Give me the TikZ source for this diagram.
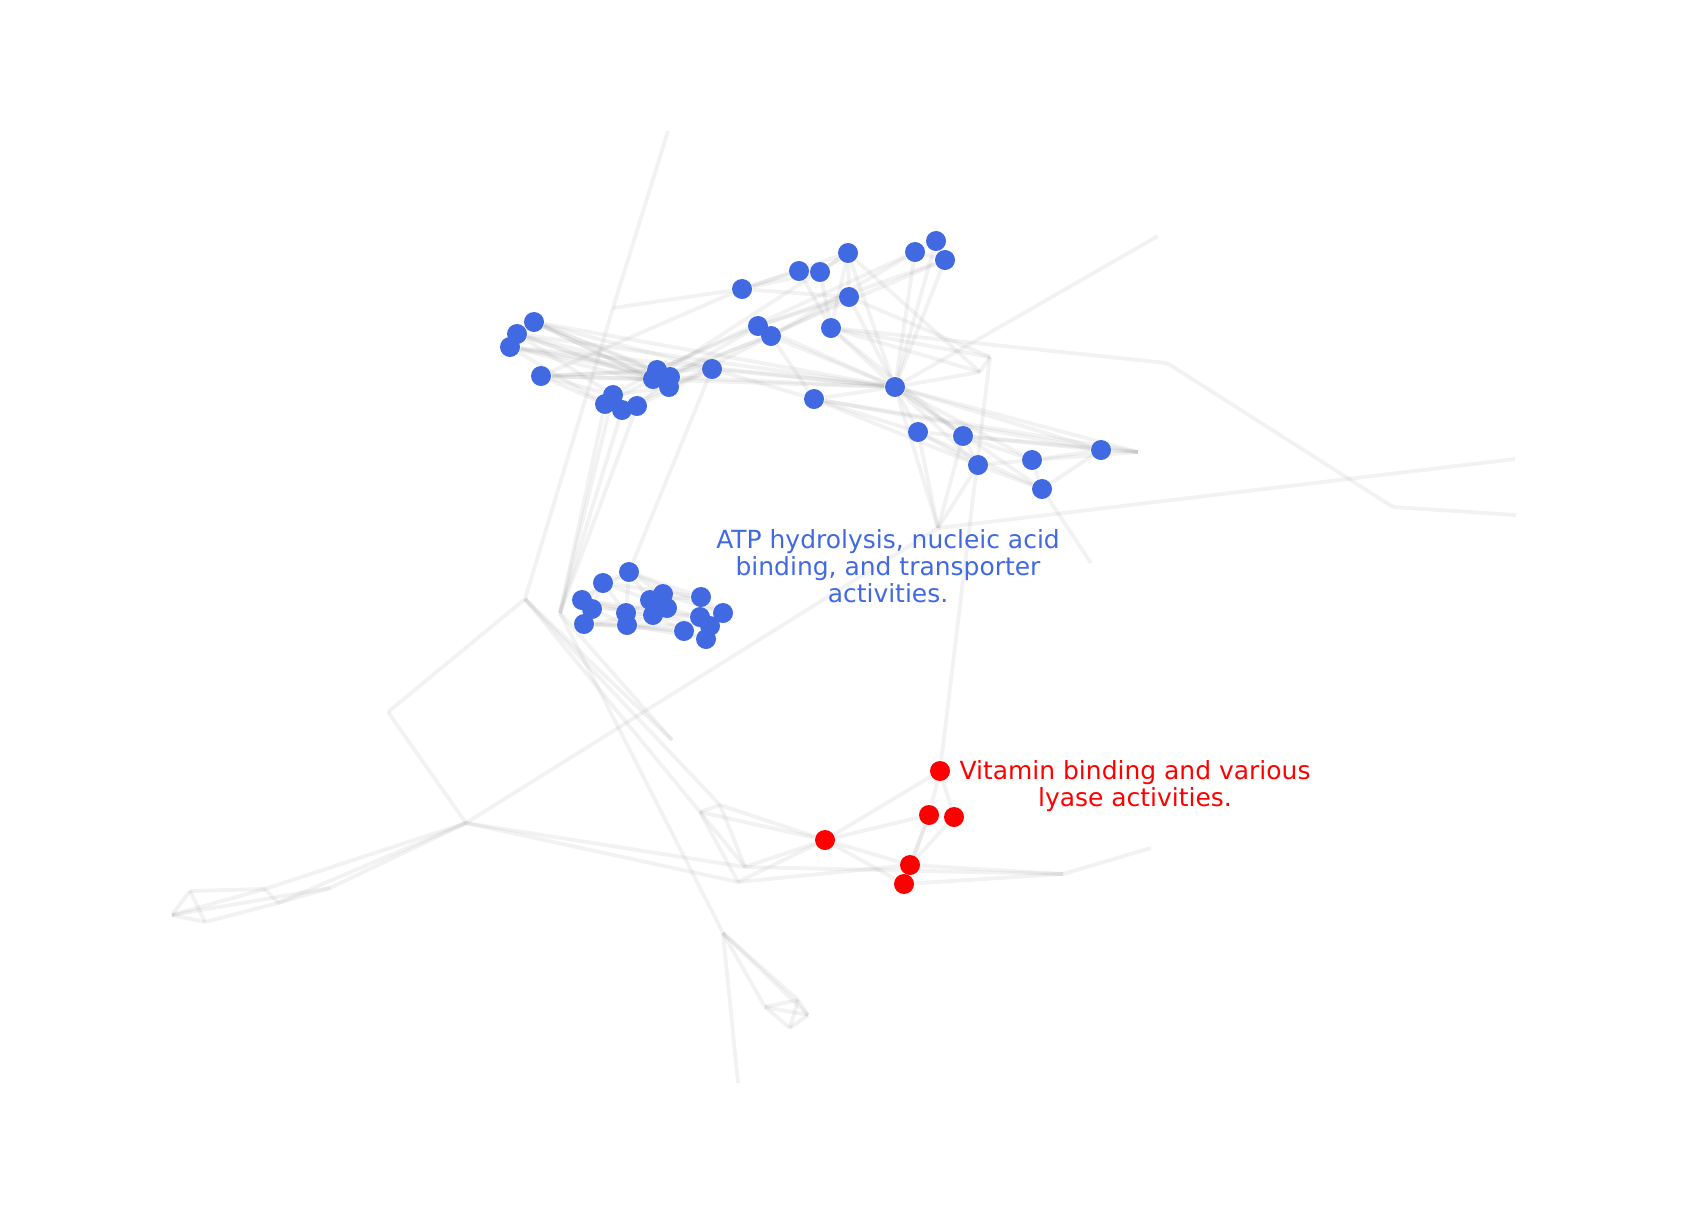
\documentclass[tikz,border=0pt]{standalone}
\usepackage{fontspec}
\setmainfont{DejaVu Sans}
\usepackage{tikz}
\usetikzlibrary{backgrounds}
\definecolor{royal}{RGB}{65,105,225}
\definecolor{vivid}{RGB}{255,0,0}

\begin{document}
\begin{tikzpicture}[
  x=0.01cm, y=-0.01cm,
  bnode/.style={
    circle,
    fill=royal,
    inner sep=0pt,
    minimum size=0.2cm
  },
  rnode/.style={
    bnode,
    fill=vivid
  },
  edge/.style={
    draw=gray,
    draw opacity=0.1,
    line width=1.1pt
  },
  lab/.style={
    align=center,
    inner sep=0pt,
    font=\fontsize{7.1}{7.7}\selectfont
  }
]
\useasboundingbox (0,0) rectangle (1687,1215);

% Upper blue group
\node[bnode] (t1)  at (534,322) {};
\node[bnode] (t2)  at (517,334) {};
\node[bnode] (t3)  at (510,347) {};
\node[bnode] (t4)  at (541,376) {};
\node[bnode] (t5)  at (613,395) {};
\node[bnode] (t6)  at (605,404) {};
\node[bnode] (t7)  at (622,410) {};
\node[bnode] (t8)  at (637,406) {};
\node[bnode] (t9)  at (657,370) {};
\node[bnode] (t10) at (653,379) {};
\node[bnode] (t11) at (670,377) {};
\node[bnode] (t12) at (669,387) {};
\node[bnode] (t13) at (712,369) {};
\node[bnode] (t14) at (742,289) {};
\node[bnode] (t15) at (799,271) {};
\node[bnode] (t16) at (820,272) {};
\node[bnode] (t17) at (848,253) {};
\node[bnode] (t18) at (849,297) {};
\node[bnode] (t19) at (758,326) {};
\node[bnode] (t20) at (771,336) {};
\node[bnode] (t21) at (831,328) {};
\node[bnode] (t22) at (814,399) {};
\node[bnode] (t23) at (915,252) {};
\node[bnode] (t24) at (936,241) {};
\node[bnode] (t25) at (945,260) {};
\node[bnode] (t26) at (895,387) {};
\node[bnode] (t27) at (918,432) {};
\node[bnode] (t28) at (963,436) {};
\node[bnode] (t29) at (978,465) {};
\node[bnode] (t30) at (1032,460) {};
\node[bnode] (t31) at (1042,489) {};
\node[bnode] (t32) at (1101,450) {};

% Middle blue group
\node[bnode] (m1)  at (629,572) {};
\node[bnode] (m2)  at (603,583) {};
\node[bnode] (m3)  at (582,600) {};
\node[bnode] (m4)  at (592,609) {};
\node[bnode] (m5)  at (584,624) {};
\node[bnode] (m6)  at (626,613) {};
\node[bnode] (m7)  at (627,625) {};
\node[bnode] (m8)  at (650,600) {};
\node[bnode] (m9)  at (663,594) {};
\node[bnode] (m10) at (667,608) {};
\node[bnode] (m11) at (653,615) {};
\node[bnode] (m12) at (701,597) {};
\node[bnode] (m13) at (700,617) {};
\node[bnode] (m14) at (710,626) {};
\node[bnode] (m15) at (723,613) {};
\node[bnode] (m16) at (684,631) {};
\node[bnode] (m17) at (706,639) {};

% Red group
\node[rnode] (r1) at (940,771) {};
\node[rnode] (r2) at (929,815) {};
\node[rnode] (r3) at (954,817) {};
\node[rnode] (r4) at (825,840) {};
\node[rnode] (r5) at (910,865) {};
\node[rnode] (r6) at (904,884) {};

% Unmarked vertices
\coordinate (gTop) at (668,131);
\coordinate (gA)   at (613,308);
\coordinate (gB)   at (525,599);
\coordinate (gC)   at (560,613);
\coordinate (gD)   at (388,712);
\coordinate (gE)   at (466,823);
\coordinate (gF)   at (672,740);
\coordinate (gL1)  at (190,891);
\coordinate (gL2)  at (172,915);
\coordinate (gL3)  at (205,922);
\coordinate (gL4)  at (265,889);
\coordinate (gL5)  at (278,903);
\coordinate (gL6)  at (330,888);
\coordinate (gQ1)  at (700,812);
\coordinate (gQ2)  at (720,805);
\coordinate (gQ3)  at (745,867);
\coordinate (gQ4)  at (738,882);
\coordinate (gR1)  at (1063,874);
\coordinate (gR2)  at (1151,848);
\coordinate (gS1)  at (723,933);
\coordinate (gS2)  at (765,1007);
\coordinate (gS3)  at (798,1000);
\coordinate (gS4)  at (808,1015);
\coordinate (gS5)  at (790,1028);
\coordinate (gS6)  at (738,1083);
\coordinate (gX)   at (938,528);
\coordinate (gRt)  at (1515,459);
\coordinate (gU)   at (990,357);
\coordinate (gV)   at (980,372);
\coordinate (gW)   at (1167,363);
\coordinate (gW2)  at (1393,507);
\coordinate (gW3)  at (1516,515);
\coordinate (gK)   at (1158,236);
\coordinate (gJ)   at (1138,452);
\coordinate (gH)   at (1091,563);

% Labels
\node[lab, text=royal] (atp) at (888,566)
  {ATP hydrolysis, nucleic acid\\binding, and transporter\\activities.};
\node[lab, text=vivid] (vit) at (1135,786)
  {Vitamin binding and various\\lyase activities.};

\begin{pgfonlayer}{background}
% Grey skeleton
\draw[edge] (gTop) -- (gA); \draw[edge] (gA) -- (gB); \draw[edge] (gA) -- (t14);
\draw[edge] (gB) -- (gD); \draw[edge] (gD) -- (gE);
\draw[edge] (gB) -- (gQ1); \draw[edge] (gB) -- (gQ2); \draw[edge] (gB) -- (gF);
\draw[edge] (gC) -- (gF); \draw[edge] (gC) -- (gS1);
\draw[edge] (t5) -- (gC); \draw[edge] (t6) -- (gC); \draw[edge] (t7) -- (gC); \draw[edge] (t8) -- (gC);
\draw[edge] (gE) -- (gL4); \draw[edge] (gE) -- (gL5); \draw[edge] (gE) -- (gL6);
\draw[edge] (gL1) -- (gL4); \draw[edge] (gL1) -- (gL2); \draw[edge] (gL1) -- (gL3);
\draw[edge] (gL2) -- (gL3); \draw[edge] (gL2) -- (gL6); \draw[edge] (gL3) -- (gL5);
\draw[edge] (gL4) -- (gL5); \draw[edge] (gL5) -- (gL6); \draw[edge] (gL2) -- (gL4);
\draw[edge] (gE) -- (gX); \draw[edge] (gE) -- (gQ3); \draw[edge] (gE) -- (gQ4);
\draw[edge] (gQ1) -- (gQ2); \draw[edge] (gQ1) -- (gQ4); \draw[edge] (gQ2) -- (gQ3);
\draw[edge] (gQ1) -- (gQ3);
\draw[edge] (gQ3) -- (gR1); \draw[edge] (gQ4) -- (r5); \draw[edge] (gR1) -- (gR2);
\draw[edge] (r5) -- (gR1); \draw[edge] (r6) -- (gR1);
\draw[edge] (gS1) -- (gS6); \draw[edge] (gS1) -- (gS2); \draw[edge] (gS1) -- (gS3);
\draw[edge] (gS1) -- (gS4); \draw[edge] (gS2) -- (gS3); \draw[edge] (gS2) -- (gS4);
\draw[edge] (gS2) -- (gS5); \draw[edge] (gS3) -- (gS4); \draw[edge] (gS3) -- (gS5);
\draw[edge] (gS4) -- (gS5);
\draw[edge] (gX) -- (gRt); \draw[edge] (gX) -- (t26); \draw[edge] (gX) -- (t27);
\draw[edge] (gX) -- (t28); \draw[edge] (gX) -- (t29);
\draw[edge] (t31) -- (gH);
\draw[edge] (t21) -- (gW); \draw[edge] (gW) -- (gW2); \draw[edge] (gW2) -- (gW3);
\draw[edge] (t26) -- (gK);
\draw[edge] (t32) -- (gJ); \draw[edge] (t26) -- (gJ); \draw[edge] (t28) -- (gJ);
\draw[edge] (t30) -- (gJ); \draw[edge] (t22) -- (gJ);
\draw[edge] (gU) -- (r1); \draw[edge] (gU) -- (t18); \draw[edge] (gU) -- (t21);
\draw[edge] (gU) -- (gV); \draw[edge] (gV) -- (t21); \draw[edge] (gV) -- (t17);
\draw[edge] (gV) -- (t26);

% Red edges
\draw[edge] (r1) -- (r4); \draw[edge] (r1) -- (r2); \draw[edge] (r1) -- (r3);
\draw[edge] (r2) -- (r4); \draw[edge] (r2) -- (r5); \draw[edge] (r3) -- (r5);
\draw[edge] (r4) -- (r5); \draw[edge] (r4) -- (r6); \draw[edge] (r5) -- (r6);
\draw[edge] (r2) -- (r6);
\draw[edge] (gQ1) -- (r4); \draw[edge] (gQ2) -- (r4); \draw[edge] (gQ3) -- (r4);
\draw[edge] (gQ4) -- (r4);

% Middle group edges
\draw[edge] (t13) -- (m1);
\draw[edge] (m1) -- (m2); \draw[edge] (m1) -- (m3); \draw[edge] (m1) -- (m6);
\draw[edge] (m1) -- (m8); \draw[edge] (m1) -- (m9); \draw[edge] (m1) -- (m12);
\draw[edge] (m1) -- (m15); \draw[edge] (m2) -- (m3); \draw[edge] (m2) -- (m4);
\draw[edge] (m2) -- (m6); \draw[edge] (m2) -- (m8); \draw[edge] (m3) -- (m4);
\draw[edge] (m3) -- (m5); \draw[edge] (m3) -- (m6); \draw[edge] (m3) -- (m11);
\draw[edge] (m4) -- (m5); \draw[edge] (m4) -- (m7); \draw[edge] (m4) -- (m10);
\draw[edge] (m5) -- (m7); \draw[edge] (m5) -- (m16); \draw[edge] (m5) -- (m11);
\draw[edge] (m6) -- (m7); \draw[edge] (m6) -- (m9); \draw[edge] (m6) -- (m13);
\draw[edge] (m7) -- (m11); \draw[edge] (m7) -- (m16); \draw[edge] (m7) -- (m17);
\draw[edge] (m8) -- (m9); \draw[edge] (m8) -- (m12); \draw[edge] (m9) -- (m10);
\draw[edge] (m9) -- (m15); \draw[edge] (m10) -- (m11); \draw[edge] (m10) -- (m13);
\draw[edge] (m11) -- (m14); \draw[edge] (m11) -- (m16); \draw[edge] (m12) -- (m13);
\draw[edge] (m12) -- (m15); \draw[edge] (m13) -- (m14); \draw[edge] (m13) -- (m17);
\draw[edge] (m14) -- (m15); \draw[edge] (m14) -- (m17); \draw[edge] (m16) -- (m17);
\draw[edge] (m15) -- (m17); \draw[edge] (m2) -- (m12); \draw[edge] (m3) -- (m13);
\draw[edge] (m5) -- (m14);

% Upper group edges
\draw[edge] (t1) -- (t9); \draw[edge] (t1) -- (t10); \draw[edge] (t1) -- (t11);
\draw[edge] (t1) -- (t12); \draw[edge] (t1) -- (t26); \draw[edge] (t1) -- (t13);
\draw[edge] (t2) -- (t9); \draw[edge] (t2) -- (t10); \draw[edge] (t2) -- (t12);
\draw[edge] (t2) -- (t26); \draw[edge] (t2) -- (t5);
\draw[edge] (t3) -- (t9); \draw[edge] (t3) -- (t11); \draw[edge] (t3) -- (t12);
\draw[edge] (t3) -- (t26); \draw[edge] (t3) -- (t6);
\draw[edge] (t4) -- (t9); \draw[edge] (t4) -- (t10); \draw[edge] (t4) -- (t13);
\draw[edge] (t4) -- (t26); \draw[edge] (t4) -- (t5); \draw[edge] (t4) -- (t6);
\draw[edge] (t4) -- (t14);
\draw[edge] (t5) -- (t9); \draw[edge] (t6) -- (t10); \draw[edge] (t7) -- (t12);
\draw[edge] (t8) -- (t11); \draw[edge] (t8) -- (t13); \draw[edge] (t5) -- (t12);
\draw[edge] (t9) -- (t19); \draw[edge] (t10) -- (t20); \draw[edge] (t11) -- (t19);
\draw[edge] (t12) -- (t20); \draw[edge] (t9) -- (t23); \draw[edge] (t11) -- (t25);
\draw[edge] (t10) -- (t17); \draw[edge] (t12) -- (t13); \draw[edge] (t11) -- (t26);
\draw[edge] (t13) -- (t26); \draw[edge] (t13) -- (t22);
\draw[edge] (t14) -- (t15); \draw[edge] (t14) -- (t16); \draw[edge] (t14) -- (t17);
\draw[edge] (t14) -- (t18);
\draw[edge] (t15) -- (t21); \draw[edge] (t16) -- (t21); \draw[edge] (t15) -- (t16);
\draw[edge] (t16) -- (t17); \draw[edge] (t17) -- (t18); \draw[edge] (t17) -- (t21);
\draw[edge] (t17) -- (t26);
\draw[edge] (t18) -- (t26); \draw[edge] (t18) -- (t19); \draw[edge] (t18) -- (t20);
\draw[edge] (t19) -- (t20); \draw[edge] (t19) -- (t26); \draw[edge] (t20) -- (t26);
\draw[edge] (t20) -- (t22);
\draw[edge] (t21) -- (t26); \draw[edge] (t21) -- (t28);
\draw[edge] (t22) -- (t26); \draw[edge] (t22) -- (t27); \draw[edge] (t22) -- (t29);
\draw[edge] (t22) -- (t32);
\draw[edge] (t23) -- (t24); \draw[edge] (t23) -- (t25); \draw[edge] (t24) -- (t25);
\draw[edge] (t23) -- (t26); \draw[edge] (t24) -- (t26); \draw[edge] (t25) -- (t26);
\draw[edge] (t23) -- (t20); \draw[edge] (t25) -- (t19);
\draw[edge] (t26) -- (t27); \draw[edge] (t26) -- (t28); \draw[edge] (t26) -- (t29);
\draw[edge] (t26) -- (t30); \draw[edge] (t26) -- (t31); \draw[edge] (t26) -- (t32);
\draw[edge] (t27) -- (t28); \draw[edge] (t27) -- (t29); \draw[edge] (t27) -- (t31);
\draw[edge] (t28) -- (t29); \draw[edge] (t28) -- (t30); \draw[edge] (t28) -- (t32);
\draw[edge] (t29) -- (t30); \draw[edge] (t29) -- (t31);
\draw[edge] (t30) -- (t31); \draw[edge] (t30) -- (t32); \draw[edge] (t31) -- (t32);
\end{pgfonlayer}

\end{tikzpicture}
\end{document}
